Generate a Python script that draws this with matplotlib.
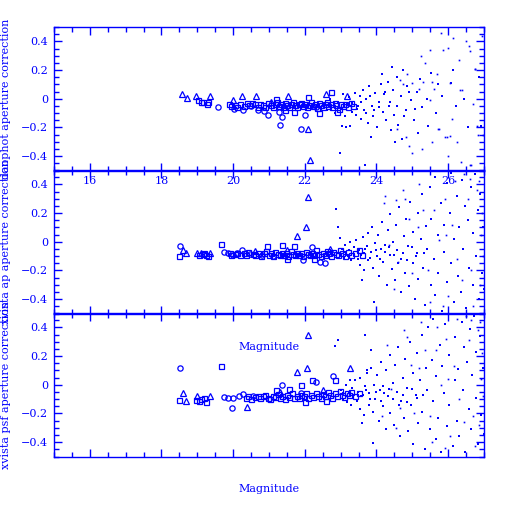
import matplotlib.pyplot as plt
from matplotlib.ticker import MultipleLocator

BLUE = '#0000ff'

# ---- panel 1: daophot ----
p1_tri = [(18.58, 0.03), (18.70, 0.005), (18.96, 0.02), (19.34, 0.02), (20.00, -0.01), (20.24, 0.02),
          (20.64, 0.02), (21.54, 0.02), (22.08, -0.21), (22.15, -0.43), (23.17, 0.02), (21.05, -0.02),
          (22.60, 0.03)]
p1_circ = [(19.59, -0.06), (20.03, -0.07), (20.27, -0.075), (20.68, -0.075), (20.87, -0.083),
           (20.96, -0.11), (21.36, -0.13), (21.31, -0.18), (22.00, -0.11), (21.28, -0.09),
           (21.89, -0.21), (22.30, -0.06), (20.50, -0.05)]
p1_sq = [(19.03, -0.01), (19.10, -0.02), (19.17, -0.025), (19.26, -0.035), (19.30, -0.02),
         (19.87, -0.04), (19.95, -0.05), (20.05, -0.045), (20.10, -0.055), (20.18, -0.04),
         (20.30, -0.05), (20.38, -0.03), (20.45, -0.045), (20.52, -0.03), (20.60, -0.04),
         (20.70, -0.055), (20.76, -0.035), (20.84, -0.045), (20.90, -0.06), (20.98, -0.03),
         (21.05, -0.045), (21.10, -0.055), (21.16, -0.035), (21.22, -0.025), (21.27, -0.05),
         (21.33, -0.04), (21.40, -0.06), (21.46, -0.03), (21.50, -0.045), (21.56, -0.055),
         (21.62, -0.035), (21.67, -0.02), (21.72, -0.045), (21.78, -0.06), (21.83, -0.04),
         (21.88, -0.03), (21.94, -0.05), (22.00, -0.035), (22.05, -0.06), (22.11, -0.045),
         (22.17, -0.025), (22.22, -0.05), (22.28, -0.04), (22.33, -0.065), (22.39, -0.03),
         (22.44, -0.045), (22.50, -0.055), (22.55, -0.035), (22.61, -0.02), (22.66, -0.05),
         (22.72, -0.04), (22.77, -0.06), (22.83, -0.03), (22.88, -0.045), (22.94, -0.07),
         (23.00, -0.035), (23.06, -0.05), (23.12, -0.04), (23.20, -0.06), (23.28, -0.03),
         (23.35, -0.05), (21.20, 0.0), (21.70, -0.09), (22.40, -0.10), (22.90, -0.09),
         (21.45, -0.08), (22.10, 0.01), (22.73, 0.05)]
p1_dot = [(22.97, -0.38), (23.03, -0.19), (23.15, -0.20), (23.27, -0.19), (23.84, -0.27), (23.68, -0.46),
          (24.15, 0.17), (24.43, 0.22), (24.52, -0.30), (22.63, -0.08), (22.71, 0.0), (22.84, -0.10),
          (22.93, -0.02), (23.01, -0.07), (23.07, 0.03), (23.12, -0.12), (23.19, -0.04), (23.22, 0.01),
          (23.31, -0.09), (23.33, -0.03), (23.39, 0.04), (23.42, -0.11), (23.47, -0.05), (23.53, 0.02),
          (23.56, -0.14), (23.63, 0.06), (23.66, -0.08), (23.72, 0.0), (23.77, -0.17), (23.79, 0.09),
          (23.88, -0.05), (23.91, -0.12), (23.97, 0.04), (24.02, -0.20), (24.06, -0.02), (24.12, 0.10),
          (24.18, -0.09), (24.21, 0.03), (24.27, -0.15), (24.33, 0.12), (24.36, -0.05), (24.41, -0.22),
          (24.47, 0.06), (24.49, -0.11), (24.58, 0.15), (24.61, -0.18), (24.67, 0.02), (24.71, -0.28),
          (24.74, 0.20), (24.83, -0.08), (24.86, 0.09), (24.97, -0.01), (25.04, -0.15), (25.12, 0.05),
          (25.17, -0.24), (25.22, 0.14), (25.26, -0.06), (25.41, 0.0), (25.44, -0.19), (25.52, 0.18),
          (25.66, -0.10), (25.71, 0.10), (25.83, 0.02), (26.07, 0.11), (26.14, 0.20), (26.45, 0.0),
          (26.21, -0.05), (26.54, -0.20), (26.87, 0.15), (26.91, -0.19), (23.58, -0.02), (23.82, 0.02),
          (23.93, -0.08), (24.08, -0.06), (24.24, 0.05), (24.38, -0.02), (24.56, -0.05), (24.78, -0.12),
          (24.92, 0.05), (25.08, -0.07), (23.46, -0.07), (23.70, -0.10)]
p1_pix = [(25.23, 0.30), (25.48, 0.34), (25.81, 0.46), (25.86, 0.34), (25.99, 0.355), (26.13, 0.42),
          (26.30, 0.27), (26.57, 0.37), (26.60, 0.33), (26.76, 0.21), (26.70, -0.04), (26.80, -0.19),
          (26.82, -0.25), (26.62, -0.46), (26.36, -0.44), (26.25, -0.30), (26.04, -0.26), (25.96, -0.27),
          (25.73, -0.21), (25.55, -0.30), (25.27, -0.35), (24.99, -0.38), (24.90, -0.33), (24.82, -0.27),
          (24.57, -0.21), (25.36, 0.25), (25.30, 0.12), (25.55, 0.12), (25.68, 0.17), (25.60, 0.07),
          (25.50, -0.01), (25.20, 0.07), (25.00, 0.11), (24.85, 0.17), (24.75, 0.10), (24.65, 0.13),
          (26.32, 0.06), (26.06, 0.11), (26.50, 0.40), (26.95, 0.44), (26.98, -0.25), (26.65, -0.46),
          (26.00, -0.40), (26.10, -0.14), (25.90, -0.27), (25.75, -0.21), (26.40, 0.06), (26.75, 0.21)]

# ---- panel 2: xvista ap ----
p2_tri = [(18.60, -0.06), (18.67, -0.08), (19.00, -0.08), (19.10, -0.075), (19.35, -0.08), (22.10, 0.31),
          (22.04, 0.105), (21.78, 0.04), (20.60, -0.065), (21.50, -0.06), (22.70, -0.05)]
p2_circ = [(18.53, -0.03), (19.75, -0.07), (19.85, -0.08), (20.00, -0.09), (20.24, -0.06), (20.47, -0.085),
           (20.10, -0.075), (21.96, -0.125), (22.43, -0.14), (22.57, -0.15), (21.10, -0.10), (20.80, -0.095),
           (22.20, -0.04)]
p2_sq = [(18.49, -0.10), (19.66, -0.015), (19.05, -0.09), (19.15, -0.085), (19.25, -0.09), (19.30, -0.10),
         (19.20, -0.08), (19.90, -0.08), (19.95, -0.09), (20.05, -0.085), (20.12, -0.075), (20.20, -0.09),
         (20.30, -0.08), (20.36, -0.095), (20.42, -0.07), (20.55, -0.085), (20.62, -0.09), (20.70, -0.075),
         (20.78, -0.10), (20.85, -0.08), (20.92, -0.065), (21.00, -0.09), (21.06, -0.08), (21.12, -0.10),
         (21.18, -0.07), (21.24, -0.085), (21.30, -0.095), (21.35, -0.075), (21.42, -0.09), (21.48, -0.08),
         (21.54, -0.10), (21.60, -0.065), (21.66, -0.085), (21.72, -0.095), (21.78, -0.075), (21.84, -0.09),
         (21.90, -0.08), (21.95, -0.10), (22.02, -0.07), (22.08, -0.085), (22.14, -0.095), (22.20, -0.075),
         (22.26, -0.09), (22.32, -0.06), (22.38, -0.085), (22.44, -0.10), (22.50, -0.075), (22.56, -0.09),
         (22.62, -0.065), (22.68, -0.08), (22.74, -0.10), (22.80, -0.07), (22.86, -0.085), (22.92, -0.095),
         (22.98, -0.06), (23.05, -0.08), (23.12, -0.10), (23.20, -0.07), (23.30, -0.09), (23.40, -0.075),
         (23.50, -0.06), (23.60, -0.09), (20.94, -0.03), (21.36, -0.02), (21.69, -0.03), (22.25, -0.12),
         (21.50, -0.12)]
p2_dot = [(22.88, 0.225), (22.92, 0.105), (22.97, 0.025), (23.27, 0.0), (23.60, -0.27), (23.92, -0.42),
          (23.03, -0.05), (23.08, -0.11), (23.11, -0.07), (23.13, -0.02), (23.21, -0.10), (23.24, -0.06),
          (23.29, -0.13), (23.36, -0.04), (23.37, -0.09), (23.44, 0.01), (23.47, -0.12), (23.52, -0.06),
          (23.53, -0.16), (23.61, 0.03), (23.64, -0.08), (23.65, -0.20), (23.73, -0.03), (23.76, 0.06),
          (23.77, -0.13), (23.85, -0.07), (23.87, 0.10), (23.89, -0.18), (23.96, -0.01), (24.01, -0.10),
          (24.03, 0.05), (24.07, -0.24), (24.13, -0.05), (24.16, 0.14), (24.19, -0.14), (24.25, -0.02),
          (24.28, -0.30), (24.31, 0.08), (24.37, -0.09), (24.39, 0.19), (24.44, -0.19), (24.45, 0.0),
          (24.53, -0.27), (24.55, 0.12), (24.57, -0.06), (24.64, 0.24), (24.67, -0.35), (24.69, -0.12),
          (24.77, 0.04), (24.79, -0.22), (24.81, 0.16), (24.88, -0.03), (24.91, -0.31), (24.93, 0.28),
          (25.01, -0.15), (25.03, 0.07), (25.07, -0.40), (25.13, -0.08), (25.16, 0.20), (25.17, -0.26),
          (25.24, 0.02), (25.27, 0.33), (25.29, -0.18), (25.36, -0.44), (25.39, 0.11), (25.41, -0.05),
          (25.48, 0.38), (25.51, -0.30), (25.53, 0.16), (25.61, -0.12), (25.63, 0.45), (25.64, -0.37),
          (25.72, 0.05), (25.73, -0.22), (25.79, 0.27), (25.84, -0.48), (25.87, 0.12), (25.89, -0.07),
          (25.96, 0.41), (25.97, -0.28), (26.04, 0.20), (26.07, -0.15), (26.09, 0.48), (26.16, -0.42),
          (26.17, 0.02), (26.24, 0.32), (26.27, -0.24), (26.29, 0.10), (26.36, -0.35), (26.39, 0.43),
          (26.41, -0.05), (26.48, 0.25), (26.49, -0.46), (26.56, 0.15), (26.57, -0.18), (26.63, 0.38),
          (26.68, -0.30), (26.69, 0.06), (26.76, 0.47), (26.77, -0.10), (26.84, 0.22), (26.87, -0.40),
          (26.89, 0.33), (26.95, -0.22), (26.96, 0.10), (26.99, -0.33), (23.57, -0.09), (23.69, -0.05),
          (23.81, -0.11), (23.99, -0.06), (24.11, -0.12), (24.23, -0.07), (24.34, -0.04), (24.48, -0.09),
          (24.61, -0.15), (24.73, -0.08), (24.85, -0.13), (24.99, -0.04), (25.11, -0.10), (25.33, -0.08)]
p2_pix = [(24.20, 0.27), (24.50, -0.33), (24.80, 0.30), (25.00, -0.22), (25.20, 0.40), (25.50, -0.42),
          (25.60, 0.22), (25.90, 0.30), (26.00, -0.38), (26.20, 0.42), (26.40, -0.27), (26.60, 0.44),
          (26.70, -0.45), (26.85, 0.42), (26.95, 0.20), (26.96, -0.10), (26.92, 0.05), (26.88, -0.30),
          (26.10, 0.12), (25.75, 0.01), (25.30, 0.22), (24.90, 0.16), (24.60, -0.14), (24.35, -0.02),
          (25.85, -0.45), (26.55, 0.30), (26.25, -0.12), (25.45, -0.20), (25.15, 0.10), (24.75, 0.36),
          (24.25, 0.32), (24.55, 0.29), (26.45, 0.47), (26.80, 0.36), (26.65, -0.20), (25.95, 0.05)]

# ---- panel 3: xvista psf ----
p3_tri = [(18.60, -0.06), (18.67, -0.11), (19.00, -0.08), (19.35, -0.08), (20.40, -0.155), (22.10, 0.345),
          (22.06, 0.12), (21.78, 0.09), (23.25, 0.12), (21.30, -0.05), (22.50, -0.04)]
p3_circ = [(18.53, 0.115), (19.98, -0.165), (19.75, -0.085), (19.86, -0.095), (20.00, -0.09), (20.15, -0.08),
           (20.27, -0.065), (20.55, -0.075), (21.36, 0.0), (22.80, 0.06), (21.00, -0.10), (21.90, -0.06),
           (22.30, 0.02)]
p3_sq = [(18.49, -0.105), (19.66, 0.13), (18.97, -0.105), (19.05, -0.11), (19.18, -0.09), (19.25, -0.12),
         (19.10, -0.10), (20.35, -0.09), (20.42, -0.08), (20.50, -0.10), (20.60, -0.085), (20.68, -0.075),
         (20.75, -0.095), (20.82, -0.08), (20.90, -0.07), (20.97, -0.09), (21.04, -0.10), (21.10, -0.075),
         (21.17, -0.085), (21.24, -0.065), (21.30, -0.09), (21.37, -0.08), (21.44, -0.10), (21.50, -0.07),
         (21.57, -0.085), (21.64, -0.06), (21.70, -0.09), (21.77, -0.075), (21.84, -0.095), (21.90, -0.07),
         (21.97, -0.08), (22.04, -0.055), (22.10, -0.09), (22.17, -0.07), (22.24, -0.085), (22.30, -0.06),
         (22.37, -0.075), (22.44, -0.09), (22.50, -0.065), (22.57, -0.08), (22.64, -0.05), (22.70, -0.07),
         (22.77, -0.09), (22.84, -0.06), (22.90, -0.075), (22.97, -0.045), (23.04, -0.07), (23.10, -0.085),
         (23.17, -0.055), (23.24, -0.07), (23.30, -0.05), (23.40, -0.08), (23.50, -0.06), (21.20, -0.04),
         (21.55, -0.03), (22.00, -0.12), (22.60, -0.11), (21.90, 0.0), (22.20, 0.03), (22.85, 0.03)]
p3_dot = [(22.92, 0.31), (22.85, 0.27), (23.27, 0.03), (23.69, 0.35), (23.85, 0.245), (23.90, -0.405),
          (23.60, -0.27), (23.73, 0.10), (23.01, -0.04), (23.06, -0.10), (23.07, -0.06), (23.14, 0.0),
          (23.17, -0.12), (23.22, -0.05), (23.28, -0.14), (23.32, -0.02), (23.34, -0.09), (23.41, 0.03),
          (23.45, -0.11), (23.47, -0.05), (23.54, -0.17), (23.55, 0.05), (23.62, -0.07), (23.66, -0.21),
          (23.67, -0.01), (23.74, 0.08), (23.78, -0.14), (23.79, -0.06), (23.86, 0.12), (23.89, -0.19),
          (23.94, 0.0), (23.97, -0.10), (24.01, 0.07), (24.06, -0.25), (24.09, -0.04), (24.13, 0.16),
          (24.18, -0.15), (24.19, -0.01), (24.26, -0.31), (24.27, 0.10), (24.33, -0.08), (24.38, 0.21),
          (24.39, -0.20), (24.46, 0.01), (24.49, -0.28), (24.51, 0.14), (24.58, -0.05), (24.59, 0.26),
          (24.66, -0.36), (24.67, -0.11), (24.73, 0.05), (24.78, -0.23), (24.79, 0.18), (24.86, -0.02),
          (24.87, -0.32), (24.94, 0.30), (24.97, -0.14), (25.02, 0.08), (25.03, -0.41), (25.09, -0.07),
          (25.14, 0.22), (25.17, -0.27), (25.21, 0.03), (25.26, 0.35), (25.27, -0.19), (25.34, -0.45),
          (25.37, 0.12), (25.42, -0.04), (25.43, 0.40), (25.49, -0.31), (25.54, 0.17), (25.57, -0.11),
          (25.58, 0.46), (25.66, -0.38), (25.67, 0.06), (25.71, -0.23), (25.78, 0.28), (25.81, -0.47),
          (25.83, 0.13), (25.89, -0.06), (25.91, 0.42), (25.98, -0.29), (26.01, 0.21), (26.03, -0.14),
          (26.09, 0.49), (26.13, -0.43), (26.18, 0.03), (26.19, 0.33), (26.26, -0.25), (26.27, 0.11),
          (26.31, -0.36), (26.38, 0.44), (26.42, -0.04), (26.43, 0.26), (26.47, -0.47), (26.53, 0.16),
          (26.58, -0.17), (26.61, 0.39), (26.63, -0.31), (26.67, 0.07), (26.71, 0.48), (26.78, -0.09),
          (26.79, 0.23), (26.83, -0.41), (26.89, 0.34), (26.91, -0.21), (26.97, 0.12), (26.99, -0.34),
          (23.58, -0.08), (23.71, -0.04), (23.83, -0.10), (23.98, -0.05), (24.12, -0.11), (24.22, -0.06),
          (24.36, -0.03), (24.47, -0.10), (24.62, -0.14), (24.74, -0.07), (24.84, -0.12), (24.98, -0.03),
          (25.12, -0.09), (25.31, -0.07)]
p3_pix = [(24.30, 0.28), (24.55, -0.30), (24.85, 0.33), (25.05, -0.20), (25.25, 0.44), (25.55, -0.40),
          (25.65, 0.24), (25.95, 0.32), (26.05, -0.36), (26.25, 0.46), (26.45, -0.26), (26.65, 0.45),
          (26.75, -0.43), (26.90, 0.44), (26.95, 0.22), (26.97, -0.08), (26.93, 0.04), (26.86, -0.28),
          (26.15, 0.13), (25.80, 0.0), (25.35, 0.24), (24.95, 0.14), (24.65, -0.16), (24.40, -0.03),
          (25.90, -0.44), (26.58, 0.31), (26.30, -0.10), (25.50, -0.22), (25.18, 0.12), (24.78, 0.38),
          (26.50, 0.48), (26.82, 0.38), (26.70, -0.22), (26.00, 0.04), (25.70, 0.40), (24.15, -0.22)]

panels = [
    ('daophot aperture correction', p1_tri, p1_circ, p1_sq, p1_dot, p1_pix),
    ('xvista ap aperture correction', p2_tri, p2_circ, p2_sq, p2_dot, p2_pix),
    ('xvista psf aperture correction', p3_tri, p3_circ, p3_sq, p3_dot, p3_pix),
]

plt.rcParams['font.family'] = 'DejaVu Serif'
plt.rcParams['font.size'] = 8

fig = plt.figure(figsize=(5.12, 5.12), dpi=100)
left, width = 54 / 512, 430 / 512
tops = [27, 170, 313]
h = 143.5

for i, (ylab, tri, circ, sq, dot, pix) in enumerate(panels):
    ax = fig.add_axes([left, 1 - (tops[i] + h) / 512, width, h / 512])
    ax.set_facecolor('none')
    for pts, mk, ms in [(sq, 's', 3.6), (circ, 'o', 3.8), (tri, '^', 4.0)]:
        x, y = zip(*pts)
        ax.plot(x, y, ls='none', marker=mk, ms=ms, mfc='none', mec=BLUE, mew=0.9)
    x, y = zip(*dot)
    ax.plot(x, y, ls='none', marker='s', ms=2.0, mfc=BLUE, mec=BLUE, mew=0)
    x, y = zip(*pix)
    ax.plot(x, y, ls='none', marker='s', ms=1.2, mfc=BLUE, mec=BLUE, mew=0)

    ax.set_xlim(15, 27)
    ax.set_ylim(-0.5, 0.5)
    ax.xaxis.set_major_locator(MultipleLocator(2))
    ax.xaxis.set_minor_locator(MultipleLocator(0.5))
    ax.yaxis.set_minor_locator(MultipleLocator(0.05))
    ax.set_yticks([-0.4, -0.2, 0, 0.2, 0.4])
    ax.set_yticklabels(['\u22120.4', '\u22120.2', '0', '0.2', '0.4'])
    ax.tick_params(which='both', direction='in', top=True, right=True, colors=BLUE,
                   labelcolor=BLUE, width=1.0)
    ax.tick_params(which='major', length=6, pad=4)
    ax.tick_params(which='minor', length=3.3)
    for sp in ax.spines.values():
        sp.set_color(BLUE)
        sp.set_linewidth(1.0)
    if i > 0:
        ax.tick_params(labelbottom=False)
        ax.set_xlabel('Magnitude', color=BLUE)
        ax.xaxis.set_label_coords(0.5, -28 / h)
    ax.set_ylabel(ylab, color=BLUE)
    ax.yaxis.set_label_coords(-43 / 430, 0.5)

fig.savefig('out.png', dpi=100)
